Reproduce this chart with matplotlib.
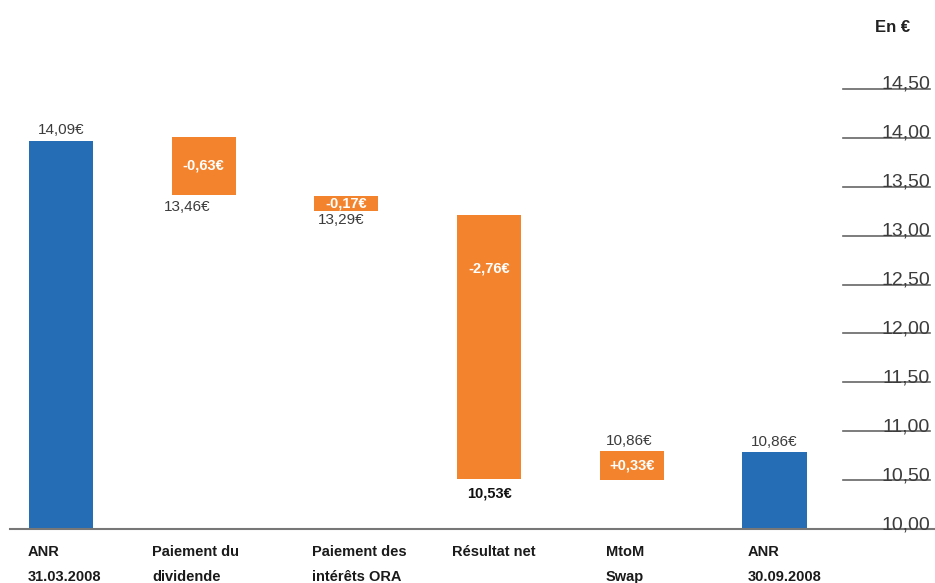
import matplotlib.pyplot as plt

# categories et valeurs
categories = ['ANR\n31.03.2008', 'Paiement du\ndividende', 'Paiement des\nintérêts ORA',
              'Résultat net', 'MtoM\nSwap', 'ANR\n30.09.2008']
bas = [10.00, 13.42, 13.25, 10.51, 10.50, 10.00]
haut = [13.97, 14.01, 13.40, 13.21, 10.80, 10.79]
types = ['total', 'var', 'var', 'var', 'var', 'total']
variations = ['', '-0,63€', '-0,17€', '-2,76€', '+0,33€', '']
niveaux = ['14,09€', '13,46€', '13,29€', '10,53€', '10,86€', '10,86€']
graduations = [10.0, 10.5, 11.0, 11.5, 12.0, 12.5, 13.0, 13.5, 14.0, 14.5]
etiquettes_y = ['10,00', '10,50', '11,00', '11,50', '12,00', '12,50', '13,00', '13,50', '14,00', '14,50']

bleu = '#256db5'
orange = '#f4832d'
gris = '#3c3c3c'

fig = plt.figure(figsize=(9.35, 5.83), dpi=100)
ax = fig.add_axes([10 / 935, 54 / 583, 925 / 935, 529 / 583])
ax.set_xlim(-0.357, 6.125)
ax.set_ylim(10, 10 + 529 / 97.8)

x = list(range(len(categories)))
couleurs = [bleu if t == 'total' else orange for t in types]
hauteurs = [h - b for h, b in zip(haut, bas)]
ax.bar(x, hauteurs, bottom=bas, width=0.45, color=couleurs)

for s in ['top', 'left', 'right']:
    ax.spines[s].set_visible(False)
ax.spines['bottom'].set_color('#777777')
ax.spines['bottom'].set_linewidth(1.5)
ax.set_xticks([])
ax.set_yticks([])

# graduations à droite
tr = ax.get_yaxis_transform()
for g, lab in zip(graduations, etiquettes_y):
    if g > 10:
        ax.plot([0.9005, 0.9946], [g, g], transform=tr, color='#666666', lw=1.2, clip_on=False)
    ax.text(0.9946, g, lab, transform=tr, ha='right', va='baseline',
            fontsize=14, color=gris, family='Liberation Sans')
fig.text(893 / 935, 1 - 27 / 583, 'En €', ha='center', va='center',
         fontsize=12, fontweight='bold', color='#222222', family='Liberation Sans')

# étiquettes de variation (dans les barres orange)
for i, v in enumerate(variations):
    if not v:
        continue
    if i == 3:
        yv = haut[i] - 0.55
    else:
        yv = (haut[i] + bas[i]) / 2
    ax.text(i, yv, v, ha='center', va='center', fontsize=10.5, fontweight='bold',
            color='white', family='Liberation Sans')

# niveaux
kw = dict(fontsize=11, color=gris, family='Liberation Sans')
ax.annotate(niveaux[0], (0, haut[0]), xytext=(0, 3), textcoords='offset points', ha='center', va='bottom', **kw)
ax.annotate(niveaux[1], (1, bas[1]), xytext=(-12, -4), textcoords='offset points', ha='center', va='top', **kw)
ax.annotate(niveaux[2], (2, bas[2]), xytext=(-4, -1), textcoords='offset points', ha='center', va='top', **kw)
ax.annotate(niveaux[3], (3, bas[3]), xytext=(0, -5), textcoords='offset points', ha='center', va='top',
            fontsize=10.5, color='#111111', family='Liberation Sans', fontweight='bold')
ax.annotate(niveaux[4], (4, haut[4]), xytext=(-2, 2), textcoords='offset points', ha='center', va='bottom', **kw)
ax.annotate(niveaux[5], (5, haut[5]), xytext=(0, 2), textcoords='offset points', ha='center', va='bottom', **kw)

# libellés des catégories
decal = [-0.23, -0.36, -0.24, -0.26, -0.18, -0.19]
xtr = ax.get_xaxis_transform()
for i, c in enumerate(categories):
    for j, l in enumerate(c.split('\n')):
        ax.text(i + decal[i], -(23 + 25 * j) / 529, l, transform=xtr, ha='left', va='center',
                fontsize=10.5, fontweight='bold', color='#1a1a1a',
                family=['Liberation Sans Narrow', 'Liberation Sans'], clip_on=False)

fig.savefig('out.png', dpi=100)
